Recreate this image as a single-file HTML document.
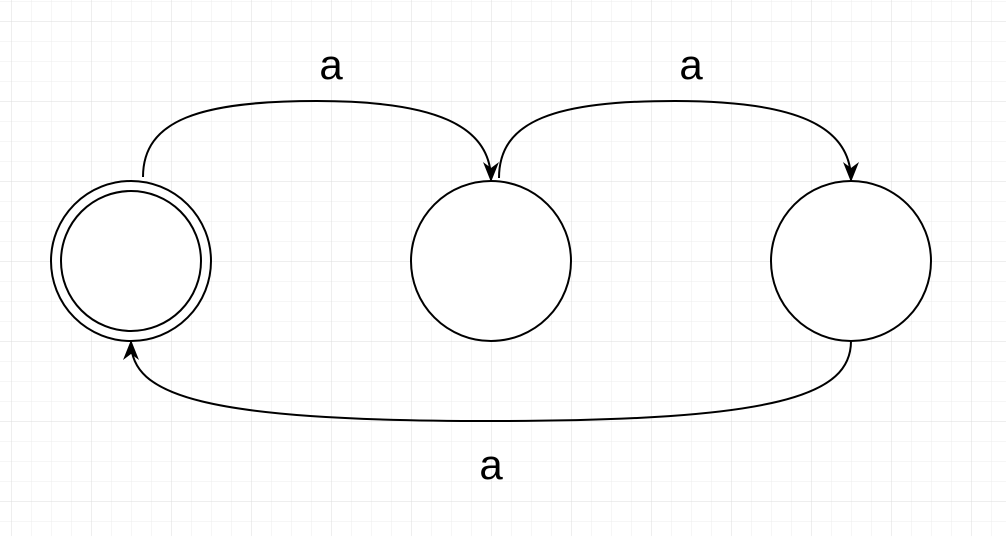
<!DOCTYPE html>
<html><head><meta charset="utf-8"><style>
html,body{margin:0;padding:0;background:#fff}
svg{display:block}
text{font-family:"Liberation Sans",sans-serif}
</style></head><body>
<svg width="1006" height="536" viewBox="0 0 1006 536">
<defs>
<pattern id="minor" width="20" height="20" patternUnits="userSpaceOnUse" x="11" y="1">
<path d="M0 0H20M0 0V20" stroke="#ececec" stroke-width="1" fill="none"/>
</pattern>
<pattern id="major" width="80" height="80" patternUnits="userSpaceOnUse" x="11" y="21">
<path d="M0 0H80M0 0V80" stroke="#dcdcdc" stroke-width="1" fill="none"/>
</pattern>
<marker id="arr" viewBox="0 0 10 10" refX="9" refY="5" markerWidth="20" markerHeight="20" orient="auto" markerUnits="userSpaceOnUse">
<path d="M0 1L10 5L0 9L3 5Z" fill="#000"/>
</marker>
</defs>
<rect width="1006" height="536" fill="url(#minor)"/>
<rect width="1006" height="536" fill="url(#major)"/>
<g fill="#fff" stroke="#000" stroke-width="2">
<circle cx="131" cy="261" r="80"/>
<circle cx="131" cy="261" r="70"/>
<circle cx="491" cy="261" r="80"/>
<circle cx="851" cy="261" r="80"/>
</g>
<g fill="none" stroke="#000" stroke-width="2">
<path d="M143 177C143 120 200 101 317 101C434 101 491 125 491 180" marker-end="url(#arr)"/>
<path d="M499 178C499 120 556 101 675 101C794 101 851 125 851 180" marker-end="url(#arr)"/>
<path d="M851 341C851 395 780 421 491 421C200 421 131 395 131 342" marker-end="url(#arr)"/>
</g>
<g font-size="42" text-anchor="middle" fill="#000">
<text x="331" y="79">a</text>
<text x="691" y="79">a</text>
<text x="491" y="479">a</text>
</g>
</svg>
</body></html>
